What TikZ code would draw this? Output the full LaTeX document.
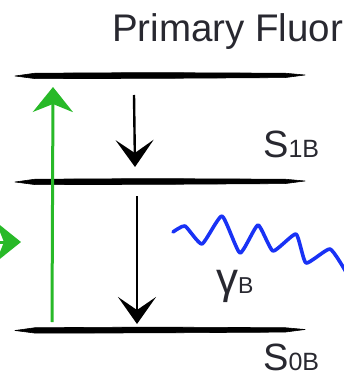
\documentclass[tikz,border=0pt]{standalone}
\usepackage{fontspec}
\setmainfont{Liberation Sans}
\usetikzlibrary{arrows.meta}
\definecolor{txt}{RGB}{40,40,48}
\definecolor{grn}{RGB}{40,185,40}
\definecolor{blu}{RGB}{25,50,245}
\begin{document}
\begin{tikzpicture}[x=1pt,y=-1pt,
  level/.style={fill=black, draw=black, line width=0.6pt, line join=round},
  blackarrow/.style={line width=2.4pt, -{Stealth[length=27pt,width=38pt,inset=13pt]}},
  greenarrow/.style={draw=grn, line width=3pt, -{Stealth[length=25pt,width=40pt,inset=8pt]}},
  lbl/.style={text=txt, inner sep=0pt, anchor=base west},
]
\useasboundingbox (0,0) rectangle (343,377);
% title
\node[lbl] (title) at (112,42) {\fontsize{38.5}{40}\selectfont Primary Fluor};
% energy levels
\fill[level] (15,76) -- (35,73.2) -- (150,72.6) -- (285,73.2) -- (305,75) -- (285,77.6) -- (150,78.4) -- (35,78.6) -- cycle;
\fill[level] (15,182) -- (35,179.2) -- (150,178.6) -- (285,179.2) -- (305,181) -- (285,183.6) -- (150,184.4) -- (35,184.6) -- cycle;
\fill[level] (15,330.5) -- (35,327.7) -- (150,327.1) -- (285,327.7) -- (305,329.5) -- (285,332.1) -- (150,332.9) -- (35,333.1) -- cycle;
% coordinates
\coordinate (a1s) at (134,95);
\coordinate (a1e) at (135,167);
\coordinate (a2s) at (137,196);
\coordinate (a2e) at (137,324);
\coordinate (gs) at (52,322);
\coordinate (ge) at (53,87);
\coordinate (ls) at (-30,242);
\coordinate (le) at (21,242);
% arrows
\draw[blackarrow] (a1s) -- (a1e);
\draw[blackarrow] (a2s) -- (a2e);
\draw[greenarrow] (gs) -- (ge);
\draw[greenarrow] (ls) -- (le);
% photon
\draw[blu, line width=3.6pt, line join=round, line cap=round] plot[smooth, tension=0.3] coordinates {(173,232) (185,226) (202,244) (222,216) (240,253) (258,225) (273,251) (296,234) (306,263) (330,249) (346,272)};
% labels
\node[lbl] (s1) at (263,157) {\fontsize{38}{40}\selectfont S\fontsize{25}{27}\selectfont 1B};
\node[lbl] (s0) at (263,370) {\fontsize{38}{40}\selectfont S\fontsize{25}{27}\selectfont 0B};
\node[lbl] (gam) at (216,293) {\fontsize{44}{46}\selectfont γ\fontsize{23}{25}\selectfont B};
\end{tikzpicture}
\end{document}
